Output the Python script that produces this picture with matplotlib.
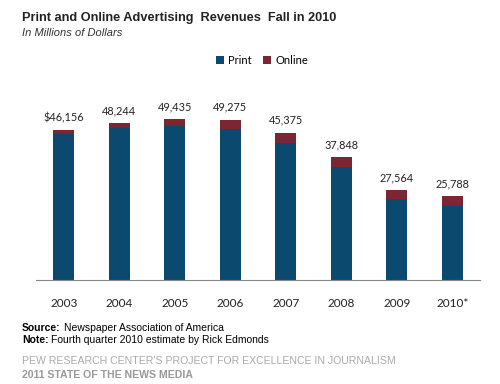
import matplotlib
matplotlib.use('Agg')
import matplotlib.pyplot as plt

years = ['2003', '2004', '2005', '2006', '2007', '2008', '2009', '2010*']
print_rev = [44939, 46703, 47408, 46611, 42209, 34740, 24821, 22795]
online_rev = [1216, 1541, 2027, 2664, 3166, 3109, 2743, 2993]
totals = [46156, 48244, 49435, 49275, 45375, 37848, 27564, 25788]
total_labels = ['$46,156', '48,244', '49,435', '49,275', '45,375', '37,848', '27,564', '25,788']

blue = '#0b4a6e'
red = '#7b2633'

fig = plt.figure(figsize=(5, 3.84), dpi=100)
ax = fig.add_axes([36/500, 1-280/384, 444/500, 195/384])

x = range(len(years))
ax.bar(x, print_rev, width=0.38, color=blue, label='Print')
ax.bar(x, online_rev, width=0.38, bottom=print_rev, color=red, label='Online')

for i in x:
    ax.annotate(total_labels[i], (i, totals[i]), xytext=(0, 5), textcoords='offset points',
                ha='center', va='bottom', fontsize=7.8, family='Lato', color='#222222')

ax.set_xlim(-0.5, 7.5)
ax.set_ylim(0, 60000)
ax.set_yticks([])
ax.set_xticks(list(x))
ax.set_xticklabels(years, family='Lato', fontsize=8.5, color='#222222')
ax.tick_params(axis='x', length=0, pad=13)
for s in ['top', 'left', 'right']:
    ax.spines[s].set_visible(False)
ax.spines['bottom'].set_color('#888888')
ax.spines['bottom'].set_linewidth(0.8)

fig.legend(loc='center', bbox_to_anchor=(262/500, 1-60/384), ncol=2, frameon=False,
           prop={'family': 'Lato', 'size': 8}, handlelength=0.7, handleheight=0.7,
           handletextpad=0.4, columnspacing=1.0)

fig.text(22/500, 1-18/384, 'Print and Online Advertising  Revenues  Fall in 2010', fontsize=9.2,
         fontweight='bold', family='Liberation Sans', color='#222222', va='center')
fig.text(22/500, 1-33/384, 'In Millions of Dollars', fontsize=8, style='italic',
         family='Liberation Sans', color='#333333', va='center')

fig.text(22/500, 1-328/384, 'Source:', fontsize=7.5, fontweight='bold', family='Liberation Sans', va='center')
fig.text(64/500, 1-328/384, 'Newspaper Association of America', fontsize=7.5, family='Liberation Sans', va='center')
fig.text(22/500, 1-340/384, 'Note:', fontsize=7.5, fontweight='bold', family='Liberation Sans', va='center')
fig.text(51/500, 1-340/384, 'Fourth quarter 2010 estimate by Rick Edmonds', fontsize=7.5, family='Liberation Sans', va='center')
fig.text(22/500, 1-361/384, "PEW RESEARCH CENTER'S PROJECT FOR EXCELLENCE IN JOURNALISM", fontsize=7.6,
         family='Liberation Sans', color='#aaaaaa', va='center')
fig.text(22/500, 1-375/384, '2011 STATE OF THE NEWS MEDIA', fontsize=7.6, fontweight='bold',
         family='Liberation Sans', color='#999999', va='center')

fig.savefig('out.png', dpi=100)
